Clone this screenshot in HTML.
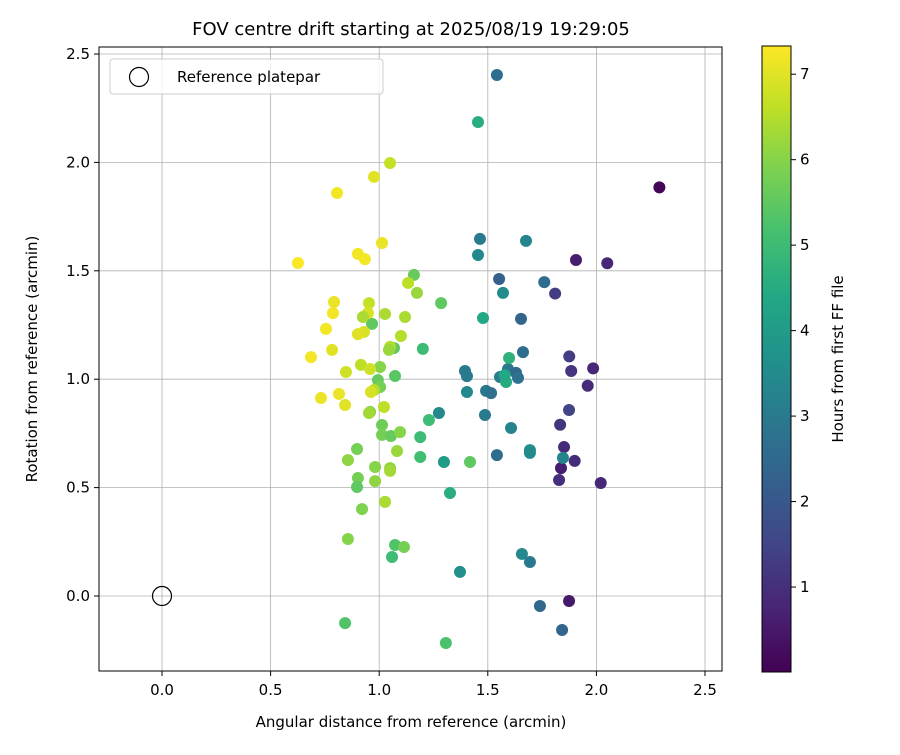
<!DOCTYPE html>
<html><head><meta charset="utf-8"><style>
body{margin:0;background:#fff;}
svg text{font-family:"DejaVu Sans","Liberation Sans",sans-serif;fill:#000;}
</style></head><body>
<svg id="chart" width="900" height="750" xmlns="http://www.w3.org/2000/svg">
<defs>
<linearGradient id="vir" x1="0" y1="1" x2="0" y2="0">
<stop offset="0" stop-color="#440154"/><stop offset="0.1" stop-color="#482475"/><stop offset="0.2" stop-color="#414487"/><stop offset="0.3" stop-color="#355f8d"/><stop offset="0.4" stop-color="#2a788e"/><stop offset="0.5" stop-color="#21918c"/><stop offset="0.6" stop-color="#22a884"/><stop offset="0.7" stop-color="#44bf70"/><stop offset="0.8" stop-color="#7ad151"/><stop offset="0.9" stop-color="#bddf26"/><stop offset="1" stop-color="#fde725"/>
</linearGradient>
</defs>
<text x="411" y="35" font-size="18" text-anchor="middle">FOV centre drift starting at 2025/08/19 19:29:05</text>
<g id="grid"></g>
<g id="points"></g>
<rect x="99" y="47" width="623" height="624" fill="none" stroke="#000" stroke-width="1"/>
<g id="xticks"></g>
<g id="yticks"></g>
<text x="411" y="727" font-size="15" text-anchor="middle">Angular distance from reference (arcmin)</text>
<text transform="translate(37,359) rotate(-90)" font-size="15" text-anchor="middle">Rotation from reference (arcmin)</text>
<g>
<rect x="110" y="59" width="273" height="35" rx="3" fill="#fff" fill-opacity="0.8" stroke="#ccc"/>
<circle cx="139" cy="77" r="9.5" fill="none" stroke="#000" stroke-width="1.2"/>
<text x="177" y="82" font-size="15">Reference platepar</text>
</g>
<rect x="762" y="46" width="29" height="626" fill="url(#vir)" stroke="#000" stroke-width="1"/>
<g id="cticks"></g>
<text transform="translate(843,359) rotate(-90)" font-size="15" text-anchor="middle">Hours from first FF file</text>
</svg>
<script>
const xTicks=[0.0,0.5,1.0,1.5,2.0,2.5];
const yTicks=[0.0,0.5,1.0,1.5,2.0,2.5];
const cTicks=[1,2,3,4,5,6,7];
const refPoint=[0,0];
const xs=[2.29,1.906,2.05,1.81,1.875,1.884,1.985,1.96,1.874,1.833,1.851,1.90,1.837,1.828,2.02,1.874,
1.542,1.464,1.676,1.76,1.552,1.57,1.653,1.662,1.593,1.630,1.556,1.639,1.395,1.404,1.492,1.515,1.404,1.487,1.275,1.607,1.694,1.694,1.542,1.846,1.298,1.657,1.694,1.740,1.842,1.372,
1.455,1.455,1.478,1.598,1.584,1.578,1.326,1.307,1.285,1.201,1.229,1.189,1.189,1.418,0.967,1.068,1.073,0.994,1.004,1.073,1.059,1.114,1.004,0.958,1.013,1.013,1.054,1.096,1.082,0.898,0.856,0.902,0.898,0.981,1.05,1.05,0.981,0.921,0.856,1.027,0.843,1.160,1.133,1.174,1.119,1.100,1.027,0.953,0.948,0.925,1.05,1.045,0.916,0.958,0.976,0.962,1.022,0.953,1.05,
0.806,0.976,1.013,0.902,0.934,0.626,0.792,0.787,0.755,0.930,0.902,0.783,0.686,0.847,0.815,0.732,0.843];
const ys=[1.885,1.55,1.535,1.395,1.105,1.038,1.05,0.97,0.858,0.79,0.687,0.623,0.59,0.535,0.521,-0.023,
2.403,1.647,1.638,1.448,1.462,1.398,1.278,1.125,1.047,1.029,1.01,1.006,1.038,1.014,0.946,0.936,0.941,0.835,0.844,0.775,0.673,0.660,0.650,0.637,0.618,0.194,0.157,-0.046,-0.157,0.111,
2.186,1.573,1.282,1.098,0.987,1.019,0.475,-0.217,1.351,1.14,0.812,0.733,0.641,0.618,1.255,1.144,1.015,0.996,1.056,0.235,0.180,0.226,0.964,0.849,0.789,0.743,0.738,0.756,0.669,0.678,0.627,0.544,0.503,0.595,0.590,0.577,0.530,0.401,0.263,0.434,-0.125,1.481,1.444,1.398,1.287,1.199,1.301,1.351,1.305,1.287,1.149,1.135,1.066,1.047,0.950,0.941,0.872,0.844,1.997,
1.859,1.933,1.628,1.578,1.554,1.536,1.356,1.305,1.232,1.218,1.208,1.135,1.102,1.033,0.932,0.913,0.881];
const hours=[0.1,0.6,0.8,1.3,1.3,1.1,0.8,0.9,1.5,1.1,0.9,0.9,0.6,1.0,0.8,0.5,
2.6,3.0,3.3,2.6,2.2,3.5,2.4,2.6,2.9,2.5,3.1,2.7,3.0,3.0,2.9,2.7,3.4,3.0,3.4,3.3,3.6,3.5,2.6,3.3,4.0,3.4,3.0,2.5,2.4,3.6,
4.6,3.4,4.4,4.7,4.5,4.4,4.6,5.2,5.5,5.0,5.0,5.0,5.1,5.5,5.5,5.5,5.4,5.6,6.0,5.3,5.0,5.8,5.8,5.9,5.7,5.8,5.6,6.0,6.2,5.8,6.1,5.8,5.5,6.0,6.1,6.3,6.1,5.9,6.0,6.4,5.3,5.6,6.6,6.2,6.4,6.5,6.4,6.7,6.9,6.4,6.5,6.2,6.6,6.8,6.5,6.9,6.6,6.3,6.7,
7.2,7.0,7.1,7.2,7.2,7.3,7.1,7.2,7.2,6.9,7.0,7.0,7.2,6.8,7.1,7.1,7.0];
const NS="http://www.w3.org/2000/svg";
const X=v=>162+v*217.2, Y=v=>596-v*216.8;
const cMin=0.006,cMax=7.33;
const CY=v=>672-(v-cMin)/(cMax-cMin)*626;
const vir=["#440154","#482475","#414487","#355f8d","#2a788e","#21918c","#22a884","#44bf70","#7ad151","#bddf26","#fde725"];
function hex(h){return [1,3,5].map(i=>parseInt(h.substr(i,2),16));}
function color(v){let t=Math.max(0,Math.min(1,(v-cMin)/(cMax-cMin)))*10;let i=Math.min(9,Math.floor(t)),f=t-i;
const a=hex(vir[i]),b=hex(vir[i+1]);return "rgb("+a.map((c,k)=>Math.round(c+(b[k]-c)*f)).join(",")+")";}
function mk(tag,at,parent){const e=document.createElementNS(NS,tag);for(const k in at)e.setAttribute(k,at[k]);parent.appendChild(e);return e;}
const grid=document.getElementById('grid'),xt=document.getElementById('xticks'),yt=document.getElementById('yticks'),ct=document.getElementById('cticks'),pts=document.getElementById('points');
xTicks.forEach(v=>{
 const g=mk('line',{x1:X(v),x2:X(v),y1:47,y2:671,stroke:'#b0b0b0','stroke-width':0.8},grid);
 
 
 const t=mk('line',{x1:X(v),x2:X(v),y1:671,y2:676,stroke:'#000'},xt);
 
 
 const l=mk('text',{x:X(v),y:695,'font-size':15,'text-anchor':'middle'},xt);l.textContent=v.toFixed(1);
 
 
});
yTicks.forEach(v=>{
 const g=mk('line',{x1:99,x2:722,y1:Y(v),y2:Y(v),stroke:'#b0b0b0','stroke-width':0.8},grid);
 
 
 const t=mk('line',{x1:94,x2:99,y1:Y(v),y2:Y(v),stroke:'#000'},yt);
 
 
 const l=mk('text',{x:90,y:Y(v)+5,'font-size':15,'text-anchor':'end'},yt);l.textContent=v.toFixed(1);
 
 
});
cTicks.forEach(v=>{
 const t=mk('line',{x1:791,x2:796,y1:CY(v),y2:CY(v),stroke:'#000'},ct);
 
 
 const l=mk('text',{x:800,y:CY(v)+5,'font-size':15},ct);l.textContent=v;
 
 
});
xs.forEach((v,i)=>{
 const c=mk('circle',{cx:X(v),cy:Y(ys[i]),r:6,fill:color(hours[i])},pts);
 
 
});
const r=mk('circle',{cx:X(refPoint[0]),cy:Y(refPoint[1]),r:9.5,fill:'none',stroke:'#000','stroke-width':1.2},pts);


</script>
</body></html>
